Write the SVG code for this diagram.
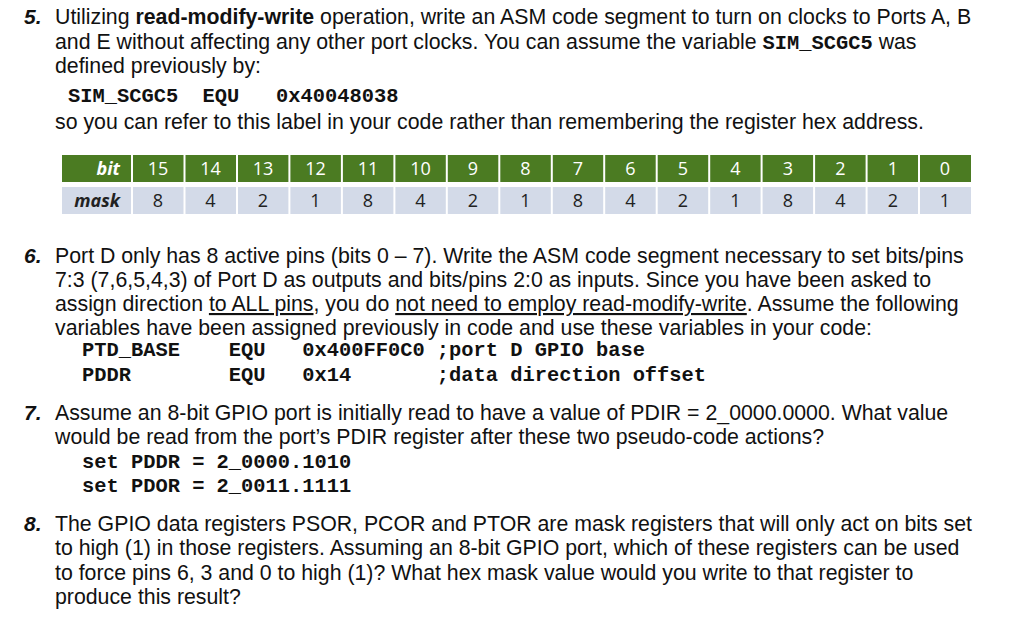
<svg xmlns="http://www.w3.org/2000/svg" width="1024" height="626" viewBox="0 0 1024 626">
<style>
.t{font-family:"Liberation Sans",Arial,sans-serif;font-size:21.3px;fill:#111}
.n{font-family:"Liberation Sans",Arial,sans-serif;font-size:21px;font-weight:bold;font-style:italic;fill:#111}
.m{font-family:"Liberation Mono","Courier New",monospace;font-size:20.4px;font-weight:bold;fill:#111}
.g{fill:#4b7b22}.l{fill:#d3dae8}
.wt{font-family:"Open Sans","Liberation Sans",sans-serif;font-size:18px;fill:#fff;text-anchor:middle}
.bt{font-family:"Open Sans","Liberation Sans",sans-serif;font-size:18px;fill:#222;text-anchor:middle}
</style>
<rect width="1024" height="626" fill="#fff"/>
<g id="q5">
<text class="n" x="24" y="24">5.</text>
<text class="t" x="55" y="24">Utilizing <tspan font-weight="bold">read-modify-write</tspan> operation, write an ASM code segment to turn on clocks to Ports A, B</text>
<text class="t" x="55" y="49">and E without affecting any other port clocks. You can assume the variable <tspan class="m">SIM_SCGC5</tspan> was</text>
<text class="t" x="55" y="73">defined previously by:</text>
<text class="m" x="68" y="102" xml:space="preserve">SIM_SCGC5  EQU   0x40048038</text>
<text class="t" x="55" y="129">so you can refer to this label in your code rather than remembering the register hex address.</text>
</g>
<g id="table">
<rect class="g" x="62" y="155" width="909" height="27"/>
<rect class="l" x="62" y="187" width="909" height="27"/>
<g stroke="#fff" stroke-width="2">
<line x1="132" y1="153" x2="132" y2="216"/><line x1="184.5" y1="153" x2="184.5" y2="216"/><line x1="237" y1="153" x2="237" y2="216"/><line x1="289.4" y1="153" x2="289.4" y2="216"/><line x1="341.9" y1="153" x2="341.9" y2="216"/><line x1="394.4" y1="153" x2="394.4" y2="216"/><line x1="446.8" y1="153" x2="446.8" y2="216"/><line x1="499.3" y1="153" x2="499.3" y2="216"/><line x1="551.8" y1="153" x2="551.8" y2="216"/><line x1="604.2" y1="153" x2="604.2" y2="216"/><line x1="656.7" y1="153" x2="656.7" y2="216"/><line x1="709.2" y1="153" x2="709.2" y2="216"/><line x1="761.6" y1="153" x2="761.6" y2="216"/><line x1="814.1" y1="153" x2="814.1" y2="216"/><line x1="866.6" y1="153" x2="866.6" y2="216"/><line x1="919" y1="153" x2="919" y2="216"/>
</g>
<text class="wt" x="120" y="175" style="text-anchor:end;font-style:italic;font-weight:bold">bit</text>
<text class="bt" x="120" y="207" style="text-anchor:end;font-style:italic;font-weight:bold">mask</text>
<text class="wt" x="158" y="175">15</text><text class="wt" x="210.5" y="175">14</text><text class="wt" x="263" y="175">13</text><text class="wt" x="315.5" y="175">12</text><text class="wt" x="368" y="175">11</text><text class="wt" x="420.5" y="175">10</text><text class="wt" x="473" y="175">9</text><text class="wt" x="525.5" y="175">8</text><text class="wt" x="578" y="175">7</text><text class="wt" x="630.5" y="175">6</text><text class="wt" x="683" y="175">5</text><text class="wt" x="735.5" y="175">4</text><text class="wt" x="788" y="175">3</text><text class="wt" x="840.5" y="175">2</text><text class="wt" x="893" y="175">1</text><text class="wt" x="945" y="175">0</text>
<text class="bt" x="158" y="207">8</text><text class="bt" x="210.5" y="207">4</text><text class="bt" x="263" y="207">2</text><text class="bt" x="315.5" y="207">1</text><text class="bt" x="368" y="207">8</text><text class="bt" x="420.5" y="207">4</text><text class="bt" x="473" y="207">2</text><text class="bt" x="525.5" y="207">1</text><text class="bt" x="578" y="207">8</text><text class="bt" x="630.5" y="207">4</text><text class="bt" x="683" y="207">2</text><text class="bt" x="735.5" y="207">1</text><text class="bt" x="788" y="207">8</text><text class="bt" x="840.5" y="207">4</text><text class="bt" x="893" y="207">2</text><text class="bt" x="945" y="207">1</text>
</g>
<g id="q6">
<text class="n" x="24" y="263">6.</text>
<text class="t" x="55" y="263">Port D only has 8 active pins (bits 0 – 7). Write the ASM code segment necessary to set bits/pins</text>
<text class="t" x="55" y="287">7:3 (7,6,5,4,3) of Port D as outputs and bits/pins 2:0 as inputs. Since you have been asked to</text>
<text class="t" x="55" y="311">assign direction <tspan text-decoration="underline">to ALL pins</tspan>, you do <tspan text-decoration="underline">not need to employ read-modify-write</tspan>. Assume the following</text>
<text class="t" x="55" y="335">variables have been assigned previously in code and use these variables in your code:</text>
<text class="m" x="82" y="356" xml:space="preserve">PTD_BASE    EQU   0x400FF0C0 ;port D GPIO base</text>
<text class="m" x="82" y="381" xml:space="preserve">PDDR        EQU   0x14       ;data direction offset</text>
</g>
<g id="q7">
<text class="n" x="24" y="420">7.</text>
<text class="t" x="55" y="420">Assume an 8-bit GPIO port is initially read to have a value of PDIR = 2_0000.0000. What value</text>
<text class="t" x="55" y="444">would be read from the port’s PDIR register after these two pseudo-code actions?</text>
<text class="m" x="82" y="468" xml:space="preserve">set PDDR = 2_0000.1010</text>
<text class="m" x="82" y="492" xml:space="preserve">set PDOR = 2_0011.1111</text>
</g>
<g id="q8">
<text class="n" x="24" y="531">8.</text>
<text class="t" x="55" y="531">The GPIO data registers PSOR, PCOR and PTOR are mask registers that will only act on bits set</text>
<text class="t" x="55" y="555">to high (1) in those registers. Assuming an 8-bit GPIO port, which of these registers can be used</text>
<text class="t" x="55" y="580">to force pins 6, 3 and 0 to high (1)? What hex mask value would you write to that register to</text>
<text class="t" x="55" y="604">produce this result?</text>
</g>
</svg>
